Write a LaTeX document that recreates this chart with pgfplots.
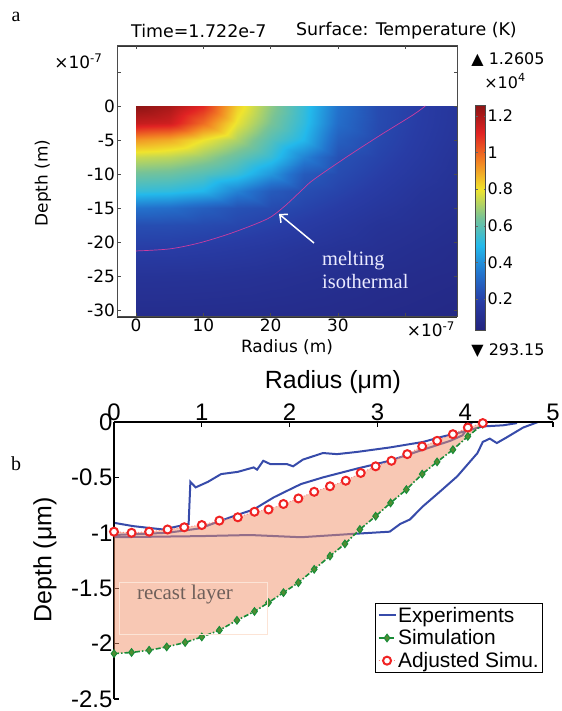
\documentclass[border=0pt]{standalone}
\usepackage{fontspec}
\usepackage{pgfplots}
\usepackage{pgfplotstable}
\pgfplotsset{compat=1.18}
\usepgfplotslibrary{fillbetween}
\usetikzlibrary{arrows.meta}
\newfontfamily\dejavu{DejaVu Sans}
\newfontfamily\arial{Liberation Sans}
\newfontfamily\tnr{Liberation Serif}

\definecolor{expblue}{RGB}{55,75,170}
\definecolor{simgreen}{RGB}{25,140,55}
\definecolor{simmark}{RGB}{80,140,50}
\definecolor{adjred}{RGB}{240,35,35}
\definecolor{recast}{RGB}{241,145,105}
\definecolor{iso}{RGB}{205,60,160}
\definecolor{recastbox}{RGB}{252,228,214}
\definecolor{recasttext}{RGB}{110,95,90}
\definecolor{boxgray}{RGB}{75,75,75}

\pgfplotsset{colormap={comsol}{rgb255(0cm)=(35,35,125); rgb255(1cm)=(40,60,165); rgb255(2cm)=(35,115,205); rgb255(3cm)=(35,185,235); rgb255(4cm)=(120,195,150); rgb255(5cm)=(240,228,45); rgb255(6cm)=(242,130,35); rgb255(7cm)=(225,35,35); rgb255(8cm)=(140,20,20)}}

% temperature field (x 10^4 K), r and depth in 1e-7 m
\pgfplotstableread{
r d T
0 0 1.260
5 0 1.210
10 0 1.100
15 0 0.833
20 0 0.673
25 0 0.528
30 0 0.334
36 0 0.226
42 0 0.184
47.7 0 0.146
0 -2.5 1.160
5 -2.5 1.140
10 -2.5 0.990
15 -2.5 0.789
20 -2.5 0.645
25 -2.5 0.517
30 -2.5 0.320
36 -2.5 0.224
42 -2.5 0.182
47.7 -2.5 0.144
0 -5 0.917
5 -5 0.886
10 -5 0.798
15 -5 0.712
20 -5 0.583
25 -5 0.484
30 -5 0.281
36 -5 0.217
42 -5 0.176
47.7 -5 0.139
0 -7.5 0.748
5 -7.5 0.734
10 -7.5 0.690
15 -7.5 0.614
20 -7.5 0.528
25 -7.5 0.372
30 -7.5 0.243
36 -7.5 0.205
42 -7.5 0.167
47.7 -7.5 0.130
0 -10 0.632
5 -10 0.621
10 -10 0.583
15 -10 0.528
20 -10 0.416
25 -10 0.269
30 -10 0.226
36 -10 0.190
42 -10 0.154
47.7 -10 0.124
0 -12.5 0.528
5 -12.5 0.517
10 -12.5 0.484
15 -12.5 0.372
20 -12.5 0.269
25 -12.5 0.231
30 -12.5 0.205
36 -12.5 0.172
42 -12.5 0.138
47.7 -12.5 0.117
0 -15 0.334
5 -15 0.320
10 -15 0.281
15 -15 0.243
20 -15 0.226
25 -15 0.205
30 -15 0.181
36 -15 0.151
42 -15 0.125
47.7 -15 0.109
0 -17.5 0.233
5 -17.5 0.231
10 -17.5 0.223
15 -17.5 0.212
20 -17.5 0.196
25 -17.5 0.177
30 -17.5 0.156
36 -17.5 0.129
42 -17.5 0.114
47.7 -17.5 0.099
0 -21 0.184
5 -21 0.182
10 -21 0.176
15 -21 0.167
20 -21 0.154
25 -21 0.138
30 -21 0.125
36 -21 0.112
42 -21 0.099
47.7 -21 0.087
0 -25 0.130
5 -25 0.129
10 -25 0.127
15 -25 0.123
20 -25 0.117
25 -25 0.110
30 -25 0.102
36 -25 0.091
42 -25 0.084
47.7 -25 0.078
0 -31 0.090
5 -31 0.090
10 -31 0.089
15 -31 0.087
20 -31 0.085
25 -31 0.082
30 -31 0.079
36 -31 0.074
42 -31 0.069
47.7 -31 0.063
}\field

\pgfplotstableread{
r d z
0 -21.3 0
5 -21.0 0
9.5 -20.1 0
14.4 -18.6 0
19.5 -16.6 0
22 -14.8 0
24.4 -12.6 0
26.3 -10.9 0
31.3 -7.5 0
36.3 -4.3 0
41.2 -1.3 0
43 0 0
}\isotherm

\pgfplotstableread{
r d
0 -0.91
0.22 -0.94
0.56 -0.97
0.85 -0.92
0.87 -0.54
0.93 -0.59
1.07 -0.54
1.22 -0.47
1.41 -0.45
1.59 -0.41
1.63 -0.43
1.70 -0.35
1.78 -0.38
1.97 -0.38
2.04 -0.40
2.15 -0.34
2.38 -0.28
2.54 -0.29
2.77 -0.27
3.14 -0.23
3.52 -0.18
3.75 -0.13
3.97 -0.09
4.20 -0.04
4.43 -0.03
4.59 -0.01
}\expA

\pgfplotstableread{
r d
0 -1.02
0.61 -1.00
0.98 -0.96
1.36 -0.85
1.59 -0.79
1.82 -0.68
2.00 -0.61
2.13 -0.56
2.38 -0.50
2.77 -0.42
3.14 -0.35
3.52 -0.25
3.83 -0.17
3.97 -0.12
4.03 -0.05
4.08 0
}\expB

\pgfplotstableread{
r d
0 -1.04
0.98 -1.03
1.55 -1.02
2.13 -1.04
2.72 -1.01
3.14 -0.99
3.26 -0.92
3.37 -0.88
3.52 -0.76
3.71 -0.63
3.91 -0.49
4.14 -0.28
4.20 -0.18
4.28 -0.15
4.36 -0.19
4.47 -0.14
4.66 -0.05
4.83 0
}\expC

\pgfplotstableread{
r d
0 -2.09
0.2 -2.08
0.4 -2.06
0.6 -2.03
0.81 -1.99
1.0 -1.94
1.2 -1.88
1.4 -1.79
1.6 -1.71
1.76 -1.63
1.93 -1.54
2.1 -1.45
2.28 -1.33
2.46 -1.21
2.63 -1.10
2.80 -0.97
2.98 -0.85
3.15 -0.73
3.33 -0.61
3.51 -0.47
3.68 -0.36
3.86 -0.25
4.03 -0.13
4.2 -0.02
}\simu

\pgfplotstableread{
r d
0 -0.99
0.2 -1.00
0.4 -0.99
0.61 -0.97
0.8 -0.95
1.0 -0.93
1.2 -0.89
1.41 -0.86
1.6 -0.81
1.76 -0.79
1.93 -0.74
2.1 -0.69
2.28 -0.63
2.46 -0.58
2.64 -0.53
2.81 -0.46
2.98 -0.40
3.16 -0.35
3.34 -0.29
3.51 -0.22
3.68 -0.17
3.86 -0.11
4.03 -0.05
4.2 -0.01
}\adju

\begin{document}
\begin{tikzpicture}
\path (0,0) rectangle (559bp,711bp);

% ---------------- panel a ----------------
\begin{axis}[
  at={(117bp,394bp)}, anchor=south west,
  scale only axis, width=340bp, height=271bp,
  view={0}{90},
  xmin=-2.82, xmax=47.7, ymin=-31, ymax=8.8,
  xtick={0,10,20,30,40}, xticklabels={0,10,20,30,{}},
  ytick={-30,-25,-20,-15,-10,-5,0,5}, yticklabels={-30,-25,-20,-15,-10,-5,0,{}},
  ztick=\empty,
  tick align=inside, major tick length=3bp,
  tick style={black!60, line width=0.4bp},
  axis line style={black!80, line width=0.5bp},
  tick label style={font=\dejavu\fontsize{17}{17}\selectfont, inner sep=2bp},
  colormap name=comsol,
  point meta min=0.029315, point meta max=1.2605,
  axis on top,
  colorbar,
  colorbar style={
    at={(parent axis.north east)}, anchor=north west,
    xshift=10bp, yshift=-59bp,
    scale only axis, width=10bp, height=225bp,
    ytick={0.2,0.4,0.6,0.8,1,1.2},
    yticklabels={0.2,0.4,0.6,0.8,1,1.2},
    yticklabel style={font=\dejavu\fontsize{16}{16}\selectfont, inner sep=2bp},
    major tick length=2bp,
    tick style={black!60, line width=0.4bp},
    axis line style={boxgray, line width=0.6bp},
  },
]
\addplot3[surf, shader=interp, mesh/cols=10] table[x=r, y=d, z=T] {\field};
\addplot3[iso, line width=0.7bp, no marks, smooth] table[x=r, y=d, z=z] {\isotherm};
\end{axis}

% frame and inward ticks of panel a
\draw[draw=boxgray, line width=1bp] (117bp,394bp) rectangle (457bp,665bp);
\foreach \x in {136.0,203.3,270.6,338.0,405.3} {
  \draw[draw=boxgray, line width=0.6bp] (\x bp,394bp) -- ++(0,3.5bp);
  \draw[draw=boxgray, line width=0.6bp] (\x bp,665bp) -- ++(0,-3.5bp);
}
\foreach \y in {400.8,434.9,468.9,502.9,536.9,571.0,605.0,639.0} {
  \draw[draw=boxgray, line width=0.6bp] (117bp,\y bp) -- ++(3.5bp,0);
  \draw[draw=boxgray, line width=0.6bp] (457bp,\y bp) -- ++(-3.5bp,0);
}

\node[font=\tnr\fontsize{20}{20}\selectfont] at (16bp,694bp) {a};
\node[font=\dejavu\fontsize{17.5}{17.5}\selectfont, anchor=west, inner sep=0pt] at (131bp,680bp) {Time=1.722e-7};
\node[font=\dejavu\fontsize{17.5}{17.5}\selectfont, anchor=east, inner sep=0pt] at (517bp,680bp) {Surface: Temperature (K)};
\node[font=\dejavu\fontsize{17}{17}\selectfont, anchor=east] at (106bp,650bp) {×10\textsuperscript{-7}};
\node[font=\dejavu\fontsize{17}{17}\selectfont] at (431bp,382bp) {×10\textsuperscript{-7}};
\node[font=\dejavu\fontsize{17}{17}\selectfont] at (287bp,364bp) {Radius (m)};
\node[font=\dejavu\fontsize{17}{17}\selectfont, rotate=90] at (43bp,528bp) {Depth (m)};
\node[font=\dejavu\fontsize{16}{16}\selectfont] at (508bp,651bp) {▲ 1.2605};
\node[font=\dejavu\fontsize{16}{16}\selectfont] at (505bp,630bp) {×10\textsuperscript{4}};
\node[font=\dejavu\fontsize{16}{16}\selectfont] at (508bp,360bp) {▼ 293.15};
\draw[white, line width=1.5bp, -{Straight Barb[length=6bp,width=11bp]}] (314bp,468bp) -- (279bp,497bp);
\node[font=\tnr\fontsize{20.5}{23}\selectfont, text=white!92!blue, align=left, anchor=west, inner sep=0pt] at (322bp,441bp) {melting\\isothermal};

% ---------------- panel b ----------------
\begin{axis}[
  at={(114bp,12bp)}, anchor=south west,
  scale only axis, width=439bp, height=277bp,
  xmin=0, xmax=5, ymin=-2.5, ymax=0,
  axis x line*=top, axis y line*=left,
  axis line style={line width=1.4bp, black, -},
  xtick={0,1,2,3,4,5}, xticklabels={0,1,2,3,4,5},
  ytick={-2.5,-2,-1.5,-1,-0.5,0}, yticklabels={-2.5,-2,-1.5,-1,-0.5,0},
  tick align=inside, major tick length=5bp,
  tick style={line width=1.2bp, black},
  tick label style={font=\arial\fontsize{24}{24}\selectfont, inner sep=1.5bp},
  clip=false,
  set layers,
  legend cell align=left,
  legend style={at={(0.977,0.347)}, anchor=north east, draw=black, line width=1.3bp,
    font=\arial\fontsize{21}{23}\selectfont, inner xsep=2bp, inner ysep=2bp,
    row sep=3bp, nodes={inner sep=1.5bp}},
]
\addplot[expblue, line width=2bp, on layer=axis background] table[x=r, y=d] {\expA};
\addlegendentry{Experiments}
\addplot[expblue, line width=2bp, forget plot, on layer=axis background] table[x=r, y=d] {\expB};
\addplot[expblue, line width=2bp, forget plot, on layer=axis background] table[x=r, y=d] {\expC};
\addplot[name path=sim, simgreen, line width=1.6bp, dash pattern=on 5bp off 2bp on 1.5bp off 2bp,
  mark=diamond*, mark size=3.8bp, mark options={solid, fill=simmark, draw=simgreen, line width=1bp}]
  table[x=r, y=d] {\simu};
\addlegendentry{Simulation}
\addplot[name path=adj, draw=none, forget plot] table[x=r, y=d] {\adju};
\addplot[fill=recast, fill opacity=0.5, draw=none, forget plot] fill between[of=sim and adj];
\addplot[adjred!55, line width=1bp, dotted, mark=*, mark size=4bp,
  mark options={solid, draw=adjred, fill=white, line width=2bp}]
  table[x=r, y=d] {\adju};
\addlegendentry{Adjusted Simu.}
\end{axis}

\draw[recastbox, line width=0.6bp] (119bp,77bp) rectangle (267bp,129bp);
\node[font=\tnr\fontsize{21}{21}\selectfont, text=recasttext] at (185bp,116bp) {recast layer};
\node[font=\tnr\fontsize{20}{20}\selectfont] at (16bp,247bp) {b};
\node[font=\arial\fontsize{25}{25}\selectfont] at (333bp,329bp) {Radius (μm)};
\node[font=\arial\fontsize{25}{25}\selectfont, rotate=90] at (45bp,151bp) {Depth (μm)};
\end{tikzpicture}
\end{document}
